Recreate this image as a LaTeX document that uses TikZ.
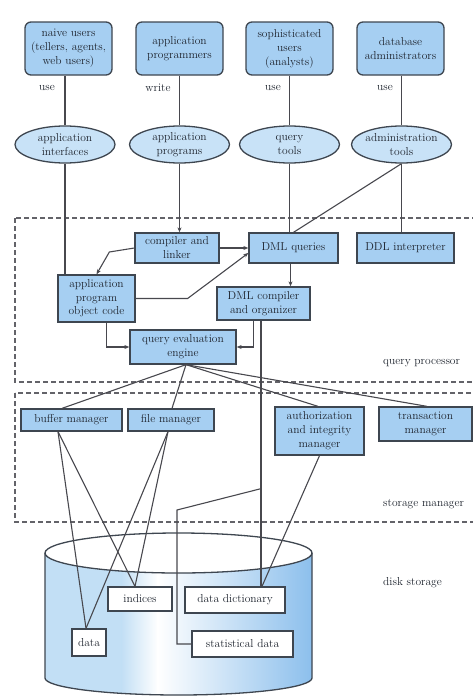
\documentclass[tikz,border=0pt]{standalone}
\usetikzlibrary{shapes.geometric,arrows.meta,calc}
\definecolor{boxfill}{RGB}{166,207,242}
\definecolor{ellfill}{RGB}{200,226,247}
\definecolor{edge}{RGB}{62,70,80}
\definecolor{wirec}{RGB}{72,72,78}
\definecolor{ink}{RGB}{30,36,46}
\definecolor{diskl}{RGB}{194,223,245}
\definecolor{diskr}{RGB}{138,190,236}

\begin{document}
\begin{tikzpicture}[x=1pt,y=-1pt,
  font=\fontsize{11.5}{14}\selectfont, text=ink,
  actor/.style={draw=edge, fill=boxfill, rounded corners=6pt, line width=1.3pt,
    align=center, inner sep=0pt, minimum width=87pt, minimum height=53pt},
  tool/.style={ellipse, draw=edge, fill=ellfill, line width=1.3pt, align=center,
    inner xsep=-10pt, inner ysep=-5pt, minimum width=100pt, minimum height=37pt},
  unit/.style={draw=edge, fill=boxfill, line width=1.3pt, align=center, inner sep=0pt},
  store/.style={draw=edge, fill=white, line width=1.3pt, inner sep=0pt},
  wire/.style={draw=wirec, line width=1.1pt},
  arr/.style={wire, -{Stealth[length=5pt,width=4pt]}},
  zone/.style={draw=wirec!85, line width=1.3pt, dash pattern=on 5pt off 3pt},
  tag/.style={inner sep=0pt, anchor=west}
]
\useasboundingbox (0,0) rectangle (472,696);

% dashed subsystem frames
\draw[zone] (15,218) rectangle (490,382);
\draw[zone] (15,393) rectangle (490,522);

% disk cylinder body
\begin{scope}
  \clip (45,553) -- (45,678)
    arc[start angle=180, end angle=360, x radius=133.5pt, y radius=17pt]
    -- (312,553)
    arc[start angle=0, end angle=-180, x radius=133.5pt, y radius=20pt] -- cycle;
  \fill[diskl] (40,520) rectangle (122,700);
  \shade[left color=diskl, right color=white] (121.5,520) rectangle (158,700);
  \shade[left color=white, right color=diskr] (157.5,520) rectangle (315,700);
\end{scope}
\draw[edge, line width=1.3pt] (178.5,553) ellipse[x radius=133.5pt, y radius=20pt];
\draw[edge, line width=1.3pt] (45,553) -- (45,678)
  arc[start angle=180, end angle=360, x radius=133.5pt, y radius=17pt] -- (312,553);

% users
\node[actor] (naive) at (68.5,48.5) {naive users\\(tellers, agents,\\web users)};
\node[actor] (prog)  at (179.5,48.5) {application\\programmers};
\node[actor] (soph)  at (289.5,48.5) {sophisticated\\users\\(analysts)};
\node[actor] (dba)   at (400.5,48.5) {database\\administrators};

\node (use1)  at (47,88)  {use};
\node (write) at (158,88) {write};
\node (use2)  at (273,88) {use};
\node (use3)  at (385,88) {use};

% tools
\node[tool] (appint)  at (65,144.5)    {application\\interfaces};
\node[tool] (appprog) at (179.5,144.5) {application\\programs};
\node[tool] (qtools)  at (289.5,144.5) {query\\tools};
\node[tool] (atools)  at (401.5,144.5) {administration\\tools};

% query processor
\node[unit, minimum width=84pt, minimum height=30pt] (compiler) at (177,248) {compiler and\\linker};
\node[unit, minimum width=89pt, minimum height=30pt] (dmlq) at (293.5,248) {DML queries};
\node[unit, minimum width=97pt, minimum height=30pt] (ddl) at (405.5,248) {DDL interpreter};
\node[unit, minimum width=77pt, minimum height=47pt, font=\fontsize{11.5}{13.5}\selectfont] (objcode) at (96.5,298.5) {application\\program\\object code};
\node[unit, minimum width=93pt, minimum height=33pt] (dmlcomp) at (263.5,303.5) {DML compiler\\and organizer};
\node[unit, minimum width=106pt, minimum height=34pt] (engine) at (183,347) {query evaluation\\engine};

% storage manager
\node[unit, minimum width=101pt, minimum height=22pt] (buffer) at (71.5,420) {buffer manager};
\node[unit, minimum width=86pt, minimum height=22pt] (file) at (171,420) {file manager};
\node[unit, minimum width=89pt, minimum height=48pt] (auth) at (319.5,431) {authorization\\and integrity\\manager};
\node[unit, minimum width=93pt, minimum height=34pt] (trans) at (425.5,424) {transaction\\manager};

% disk contents
\node[store, minimum width=64pt, minimum height=24pt] (indices) at (140,599) {indices};
\node[store, minimum width=100pt, minimum height=26pt] (datadict) at (235,600) {data dictionary};
\node[store, minimum width=34pt, minimum height=27pt] (data) at (89,642.5) {data};
\node[store, minimum width=101pt, minimum height=26pt] (stat) at (242.5,644) {statistical data};

% frame labels
\node[tag] (qpl) at (383,363) {query processor};
\node[tag] (sml) at (383,504) {storage manager};
\node[tag] (dsl) at (383,583) {disk storage};

% users to tools
\draw[wire] (naive.south -| appint.north) -- (appint.north);
\draw[wire] (prog.south) -- (appprog.north);
\draw[wire] (soph.south) -- (qtools.north);
\draw[wire] (dba.south -| atools.north) -- (atools.north);

% tools into the query processor
\draw[wire] (appint.south) -- (appint.south |- objcode.north);
\draw[arr] (appprog.south) -- (appprog.south |- compiler.north);
\draw[wire] (qtools.south) -- (qtools.south |- dmlq.north);
\draw[wire] (atools.south) -- (atools.south |- ddl.north);
\draw[wire] (atools.south) -- (dmlq.north);

% inside the query processor
\draw[arr] (compiler.east) -- (dmlq.west);
\draw[arr] (compiler.west) -- ++(-25,4) -- (objcode.north);
\draw[arr] (objcode.east) -- ++(52,0) -- ($(dmlq.west)+(0,5)$);
\draw[arr] ($(dmlq.south)+(-3,0)$) -- ($(dmlq.south |- dmlcomp.north)+(-3,0)$);
\draw[arr] ($(objcode.south)+(10,0)$) |- (engine.west);
\draw[arr] ($(dmlcomp.south)+(-10,0)$) |- (engine.east);

% compiler to data dictionary and statistics
\coordinate (tap) at ($(dmlcomp.south)+(-2.5,0)$);
\draw[wire] (tap) -- (tap |- datadict.north);
\coordinate (fork) at ($(tap)+(0,168)$);
\draw[wire] (fork) -- (177,510) |- (stat.west);

% evaluation engine to the managers
\coordinate (fan) at ($(engine.south)+(3,0)$);
\draw[wire] (fan) -- ($(buffer.north)+(-9.5,0)$);
\draw[wire] (fan) -- ($(file.north)+(1,0)$);
\draw[wire] (fan) -- ($(auth.north)+(-1.5,0)$);
\draw[wire] (fan) -- ($(trans.north)+(1.5,0)$);

% managers to disk
\coordinate (bufout) at ($(buffer.south)+(-13.5,0)$);
\coordinate (fileout) at ($(file.south)+(-3,0)$);
\coordinate (datain) at ($(data.north)+(-3,0)$);
\coordinate (idxin) at ($(indices.north)+(-5,0)$);
\draw[wire] (bufout) -- (datain);
\draw[wire] (bufout) -- (idxin);
\draw[wire] (fileout) -- (datain);
\draw[wire] (fileout) -- (idxin);
\draw[wire] (auth.south) -- ($(datadict.north)+(27,0)$);
\end{tikzpicture}
\end{document}
